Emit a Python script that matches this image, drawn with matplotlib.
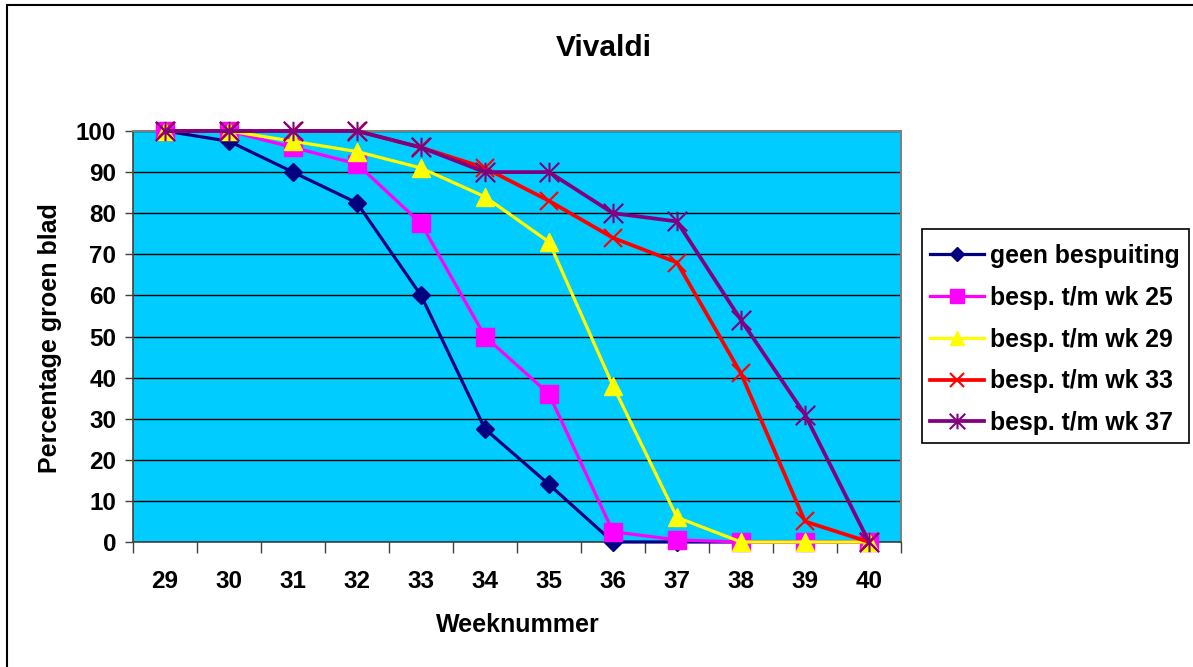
import matplotlib
matplotlib.use("Agg")
import matplotlib.pyplot as plt
from matplotlib.path import Path
from matplotlib.patches import Rectangle

plt.rcParams['font.family'] = ['Liberation Sans', 'DejaVu Sans']

weeks = [29, 30, 31, 32, 33, 34, 35, 36, 37, 38, 39, 40]
geen = [100, 97.5, 90, 82.5, 60, 27.5, 14, 0, 0, 0, 0, 0]
wk25 = [100, 100, 96, 92, 77.5, 50, 36, 2.5, 0.5, 0, 0, 0]
wk29 = [100, 100, 97.5, 95, 91, 84, 73, 38, 6, 0, 0, 0]
wk33 = [100, 100, 100, 100, 96, 91, 83, 74, 68, 41, 5, 0]
wk37 = [100, 100, 100, 100, 96, 90, 90, 80, 78, 54, 31, 0]
labels = ["geen bespuiting", "besp. t/m wk 25", "besp. t/m wk 29",
          "besp. t/m wk 33", "besp. t/m wk 37"]

star = Path([(-0.5, -0.5), (0.5, 0.5), (-0.5, 0.5), (0.5, -0.5), (0, -0.5), (0, 0.5)],
            [Path.MOVETO, Path.LINETO, Path.MOVETO, Path.LINETO, Path.MOVETO, Path.LINETO])

W, H = 1193, 667
fig = plt.figure(figsize=(W / 100, H / 100), dpi=100)
fig.patches.append(Rectangle((7 / W, -0.1), 1.2, 1 - 5 / H + 0.1, transform=fig.transFigure,
                             fill=False, edgecolor='black', linewidth=1.5))
ax = fig.add_axes([133 / W, 1 - 542 / H, (901 - 133) / W, (542 - 131) / H])
ax.set_facecolor('#00CCFF')

styles = [
    dict(color='#000080', marker='D', ms=9.5, mfc='#000080', mec='#000080', lw=2.3),
    dict(color='#FF00FF', marker='s', ms=13, mfc='#FF00FF', mec='#FF00FF', lw=2.3),
    dict(color='#FFFF00', marker='^', ms=13, mfc='#FFFF00', mec='#FFFF00', lw=2.3),
    dict(color='#FF0000', marker='x', ms=13, mew=1.5, mec='#FF0000', lw=2.7),
    dict(color='#800080', marker=star, ms=14, mew=1.5, mec='#800080', lw=2.7),
]
series = [geen, wk25, wk29, wk33, wk37]
for s, lab, st in zip(series, labels, styles):
    ax.plot(weeks, s, label=lab, clip_on=False, zorder=3, **st)

ax.set_xlim(weeks[0] - 0.5, weeks[-1] + 0.5)
ax.set_ylim(0, 100)
ax.set_yticks(range(0, 101, 10))
ax.yaxis.grid(True, color='black', linewidth=1)
ax.set_axisbelow(True)

ax.set_xticks([w - 0.5 for w in weeks] + [weeks[-1] + 0.5])
ax.set_xticklabels([])
ax.set_xticks(weeks, minor=True)
ax.set_xticklabels([str(w) for w in weeks], minor=True, fontsize=17.5, fontweight='bold')
ax.tick_params(axis='x', which='major', length=8, width=1, color='#404040', direction='out')
ax.tick_params(axis='x', which='minor', length=0, pad=20)
ax.tick_params(axis='y', length=6, width=1, color='#404040', pad=6, labelsize=17.5)
for t in ax.get_yticklabels():
    t.set_fontweight('bold')

for side in ['left', 'bottom']:
    ax.spines[side].set_color('#404040')
    ax.spines[side].set_linewidth(1.2)
for side in ['top', 'right']:
    ax.spines[side].set_color('#808080')
    ax.spines[side].set_linewidth(1.5)

fig.text(604 / W, 1 - 48 / H, 'Vivaldi', ha='center', va='center', fontsize=21.5, fontweight='bold')
fig.text(518 / W, 1 - 625 / H, 'Weeknummer', ha='center', va='center', fontsize=18, fontweight='bold')
fig.text(50 / W, 1 - 338 / H, 'Percentage groen blad', ha='center', va='center',
         rotation=90, fontsize=18, fontweight='bold')

# legend frame drawn separately
fig.patches.append(Rectangle((922 / W, 1 - 443 / H), (1189 - 922) / W, (443 - 229) / H,
                             transform=fig.transFigure, fill=True, facecolor='white',
                             edgecolor='black', linewidth=1.2, zorder=4))
leg = fig.legend(loc='upper left', bbox_to_anchor=(922 / W, 1 - 236 / H), prop=dict(size=17.8, weight='bold'),
                 frameon=False, handlelength=2.2,
                 labelspacing=0.72, borderpad=0.32, handletextpad=0.25, borderaxespad=0,
                 markerscale=0.8)
leg.set_zorder(5)

fig.savefig('out.png', dpi=100, facecolor='white')
